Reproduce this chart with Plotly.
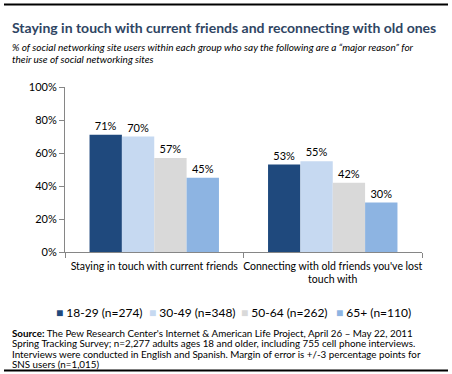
import plotly.graph_objects as go

W, H = 452, 374
categories = ["Staying in touch with current friends",
              "Connecting with old friends you've lost<br>touch with"]
series_names = ["18-29 (n=274)", "30-49 (n=348)", "50-64 (n=262)", "65+ (n=110)"]
series_values = [[71, 53], [70, 55], [57, 42], [45, 30]]
colors = ["#1F497D", "#C6D9F1", "#D9D9D9", "#8DB4E2"]
y_ticks = [0, 20, 40, 60, 80, 100]
title = "Staying in touch with current friends and reconnecting with old ones"
subtitle_lines = ["% of social networking site users within each group who say the following are a \u201cmajor reason\u201d for",
                  "their use of social networking sites"]
source_lines = ["<b>Source:</b> The Pew Research Center's Internet & American Life Project, April 26 \u2013 May 22, 2011",
                "Spring Tracking Survey; n=2,277 adults ages 18 and older, including 755 cell phone interviews.",
                "Interviews were conducted in English and Spanish. Margin of error is +/-3 percentage points for",
                "SNS users (n=1,015)"]

FONT = "Lato"

def px_x(x):
    return x / W

def px_y(y):
    return 1 - y / H

fig = go.Figure()
for name, vals, c in zip(series_names, series_values, colors):
    fig.add_trace(go.Bar(
        x=categories, y=vals, name=name, marker=dict(color=c, line=dict(width=0)),
        text=[f"{v}%" for v in vals], textposition="outside",
        textfont=dict(size=11, color="#000000", family=FONT),
        cliponaxis=False, showlegend=False,
    ))

fig.update_layout(
    width=W, height=H,
    margin=dict(l=0, r=0, t=0, b=0, autoexpand=False),
    paper_bgcolor="white", plot_bgcolor="white",
    barmode="group", bargap=0.275, bargroupgap=0,
    font=dict(family=FONT, size=11, color="#000000"),
    showlegend=False,
    xaxis=dict(domain=[px_x(65), px_x(422)], anchor="y", automargin=False,
               showline=True, linecolor="#868686", linewidth=1, tickangle=0,
               ticks="outside", tickson="boundaries", ticklen=5, tickcolor="#868686",
               ticklabelstandoff=4,
               tickfont=dict(size=10.5, family=FONT)),
    yaxis=dict(domain=[px_y(252), px_y(87)], range=[0, 100], automargin=False,
               tickvals=y_ticks, ticktext=[f"{t}%" for t in y_ticks],
               showline=True, linecolor="#868686", linewidth=1,
               ticks="outside", ticklen=5, tickcolor="#868686",
               showgrid=False, zeroline=False,
               tickfont=dict(size=11, family=FONT)),
)

annotations = [
    dict(text=f"<b>{title}</b>", x=px_x(10), y=px_y(28), xanchor="left", yanchor="middle",
         font=dict(size=14, color="#2F4563", family=FONT)),
]
for i, line in enumerate(subtitle_lines):
    annotations.append(dict(text=f"<i>{line}</i>", x=px_x(10), y=px_y(47 + 12 * i),
                            xanchor="left", yanchor="middle",
                            font=dict(size=10, color="#000000", family=FONT)))
for i, line in enumerate(source_lines):
    annotations.append(dict(text=line, x=px_x(10), y=px_y(333 + 10.3 * i),
                            xanchor="left", yanchor="middle",
                            font=dict(size=9.8, color="#000000", family=FONT)))
legend_x = [55, 148, 240, 335]
for name, c, lx in zip(series_names, colors, legend_x):
    annotations.append(dict(text=f"<span style='color:{c}'>\u25A0</span> {name}",
                            x=px_x(lx - 1), y=px_y(312), xanchor="left", yanchor="middle",
                            font=dict(size=12, color="#000000", family=FONT)))
for a in annotations:
    a.update(xref="paper", yref="paper", showarrow=False)
fig.update_layout(annotations=annotations)

fig.update_layout(shapes=[
    dict(type="rect", xref="paper", yref="paper", x0=px_x(4), x1=px_x(448), y0=px_y(3.5), y1=px_y(5.5),
         fillcolor="#000000", line=dict(width=0), layer="above"),
    dict(type="rect", xref="paper", yref="paper", x0=px_x(4), x1=px_x(448), y0=px_y(369.5), y1=px_y(371.5),
         fillcolor="#000000", line=dict(width=0), layer="above"),
])

fig.write_html("out.html", config={"displayModeBar": False},
               post_script="document.body.style.margin='0';document.body.style.overflow='hidden';")
